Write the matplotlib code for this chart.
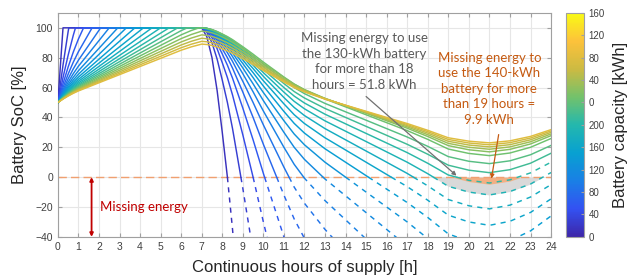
import numpy as np
import matplotlib
matplotlib.use("Agg")
import matplotlib.pyplot as plt
from matplotlib.colors import LinearSegmentedColormap, Normalize
from matplotlib.cm import ScalarMappable

plt.rcParams['font.family'] = ['Liberation Sans', 'DejaVu Sans']

# battery sizes of the curves [kWh]
capacities = [10, 20, 30, 40, 50, 60, 70, 80, 90, 100, 110, 120, 130, 140,
              150, 160, 170, 180, 190, 200, 210, 220]
start_soc = 50.0

# cumulative net energy into the battery [kWh] vs. hours of supply
hours = [0, 0.25, 0.5, 0.75, 1, 1.5, 2, 2.5, 3, 3.5, 4, 4.5, 5, 5.5, 6, 6.5, 7,
         7.25, 7.5, 7.75, 8, 8.25, 8.5, 8.75, 9, 9.5, 10, 10.5, 11, 11.5, 12,
         13, 14, 15, 16, 17, 18, 19, 20, 21, 22, 23, 24]
net_energy = [0, 5, 9.5, 13.5, 17, 23, 29, 35, 41, 47, 53, 59, 65, 71, 77, 82, 86,
              85.4, 84, 81.8, 79, 76, 72.5, 68.5, 64.5, 56, 47, 38.5, 30, 22, 15.5,
              5, -4, -13, -22, -31, -41, -52, -57, -59.5, -56.5, -50, -40]

cbar_labels = ["0", "40", "80", "120", "160", "200", "0", "40", "80", "120", "160"]

parula = LinearSegmentedColormap.from_list("parula", [
    (0.0, (0.24, 0.15, 0.66)),
    (0.125, (0.20, 0.32, 0.95)),
    (0.25, (0.10, 0.50, 0.90)),
    (0.375, (0.03, 0.63, 0.82)),
    (0.5, (0.14, 0.72, 0.68)),
    (0.625, (0.45, 0.76, 0.42)),
    (0.75, (0.80, 0.73, 0.26)),
    (0.875, (0.99, 0.76, 0.23)),
    (1.0, (0.976, 0.983, 0.080)),
])
norm = Normalize(0, 275)


def soc_curve(cap):
    t = [hours[0]]
    s = [start_soc]
    for i in range(1, len(hours)):
        prev = s[-1]
        new = prev + 100 * (net_energy[i] - net_energy[i - 1]) / cap
        if new > 100:
            if prev < 100:
                f = (100 - prev) / (new - prev)
                t.append(hours[i - 1] + f * (hours[i] - hours[i - 1]))
                s.append(100.0)
            new = 100.0
        t.append(hours[i])
        s.append(new)
    return np.array(t), np.array(s)


def split_at_zero(t, s):
    below = np.where(s < 0)[0]
    if len(below) == 0:
        return (t, s), None
    k = below[0]
    f = s[k - 1] / (s[k - 1] - s[k])
    tz = t[k - 1] + f * (t[k] - t[k - 1])
    solid = (np.append(t[:k], tz), np.append(s[:k], 0))
    dashed = (np.insert(t[k:], 0, tz), np.insert(s[k:], 0, 0))
    return solid, dashed


fig = plt.figure(figsize=(6.43, 2.8), dpi=100)
ax = fig.add_axes([0.090, 0.154, 0.767, 0.800])

curves = {c: soc_curve(c) for c in capacities}

# missing-energy areas
t130, s130 = curves[130]
ax.fill_between(t130, s130, 0, where=s130 < 0, interpolate=True,
                color="#d9d9d9", lw=0, zorder=1)
t140, s140 = curves[140]
ax.fill_between(t140, s140 - 0.8, 0, where=s140 < 0.5, interpolate=True,
                color="#f2b084", lw=0, zorder=1.5)

for c in capacities:
    t, s = curves[c]
    col = parula(norm(c))
    solid, dashed = split_at_zero(t, s)
    ax.plot(*solid, color=col, lw=1.05, zorder=3)
    if dashed is not None:
        ax.plot(*dashed, color=col, lw=1.05, ls=(0, (3.5, 3.5)), zorder=3)

ax.axhline(0, color="#f0a070", lw=1.0, ls=(0, (6, 3)), zorder=2)

ax.set_xlim(0, 24)
ax.set_ylim(-40, 110)
ax.set_xticks(range(0, 25))
ax.set_yticks(range(-40, 101, 20))
ax.grid(True, color="#e6e6e6", lw=0.8)
ax.set_axisbelow(True)
ax.tick_params(direction="in", top=True, right=True, length=3,
               labelsize=7.5, labelcolor="#404040", color="#a0a0a0")
for sp in ax.spines.values():
    sp.set_color("#a0a0a0")
ax.set_xlabel("Continuous hours of supply [h]", fontsize=12, color="#262626",
              labelpad=6)
ax.set_ylabel("Battery SoC [%]", fontsize=12, color="#262626", labelpad=6)

# annotations
ax.annotate("", xy=(1.64, -40), xytext=(1.64, 0),
            arrowprops=dict(arrowstyle="<|-|>", color="#c00000", lw=1.3,
                            mutation_scale=5, shrinkA=0, shrinkB=0))
ax.text(2.05, -20, "Missing energy", color="#c00000", fontsize=9.5,
        family="Lato", va="center", ha="left")

ax.annotate("", xy=(19.4, 1), xytext=(15.0, 54),
            arrowprops=dict(arrowstyle="-|>", color="#707070", lw=0.9,
                            mutation_scale=6, shrinkA=0, shrinkB=0))
ax.text(14.9, 97, "Missing energy to use\nthe 130-kWh battery\nfor more than 18\nhours = 51.8 kWh",
        color="#595959", fontsize=9.5, family="Lato", ha="center", va="top",
        linespacing=1.35)

ax.annotate("", xy=(21.1, -1), xytext=(21.45, 28.5),
            arrowprops=dict(arrowstyle="-|>", color="#c55a11", lw=0.9,
                            mutation_scale=6, shrinkA=0, shrinkB=0))
ax.text(21.0, 84, "Missing energy to\nuse the 140-kWh\nbattery for more\nthan 19 hours =\n9.9 kWh",
        color="#c55a11", fontsize=9.5, family="Lato", ha="center", va="top",
        linespacing=1.35)

# colorbar
cax = fig.add_axes([0.880, 0.154, 0.028, 0.800])
sm = ScalarMappable(norm=Normalize(0, 1), cmap=parula)
cb = fig.colorbar(sm, cax=cax)
cb.set_ticks(np.linspace(0, 1, len(cbar_labels)))
cb.set_ticklabels(cbar_labels)
cb.ax.tick_params(direction="in", length=2, labelsize=7, labelcolor="#404040",
                  color="#a0a0a0")
cb.outline.set_edgecolor("#a0a0a0")
cb.set_label("Battery capacity [kWh]", fontsize=12, color="#262626", labelpad=6)

fig.savefig("out.png", dpi=100)
